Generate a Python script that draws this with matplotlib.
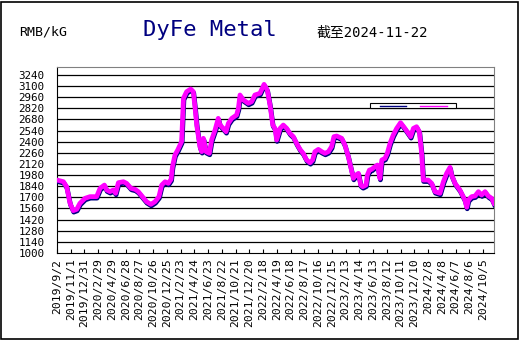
import numpy as np
import matplotlib
matplotlib.use('Agg')
import matplotlib.pyplot as plt
import matplotlib.transforms as mtransforms
from matplotlib.patches import Rectangle

# x = days since 2019/9/2, y = price in RMB/kG
day_offset = [0, 28, 42, 57, 71, 86, 100, 122, 144, 173, 188, 207, 217, 231, 246, 256, 268, 290, 304, 323,
              341, 355, 373, 391, 410, 428, 445, 457, 472, 486, 498, 504, 515, 527, 544, 552, 566, 584, 595, 603,
              610, 624, 632, 639, 651, 665, 675, 690, 704, 712, 726, 738, 748, 763, 784, 792, 799, 814, 835, 850,
              864, 886, 904, 918, 930, 942, 952, 959, 974,
              988, 1003, 1017, 1032, 1046, 1061, 1075, 1090, 1105, 1116, 1126, 1141, 1156, 1170, 1185, 1199, 1209,
              1221, 1243, 1257, 1272, 1282, 1294, 1305, 1316, 1326, 1335, 1349, 1355, 1364, 1374, 1388, 1399, 1410,
              1418, 1432, 1442, 1454, 1468, 1483, 1500, 1519, 1534, 1544, 1556, 1570, 1582, 1592, 1599, 1621, 1636,
              1650, 1672, 1687, 1701, 1716, 1723, 1738, 1759, 1781, 1789, 1796, 1810, 1825, 1840, 1854, 1869, 1883,
              1898, 1908]
price = [1918, 1897, 1834, 1625, 1533, 1549, 1625, 1688, 1709, 1709, 1814, 1855, 1793, 1772, 1793, 1751, 1885, 1897, 1876, 1814,
         1801, 1772, 1709, 1646, 1612, 1646, 1709, 1855, 1897, 1876, 1927, 2086, 2233, 2296, 2401, 2946, 3030, 3063, 3030, 2820,
         2610, 2338, 2275, 2443, 2275, 2254, 2422, 2547, 2694, 2610, 2568, 2526, 2631, 2694, 2736, 2820, 2988, 2925, 2883, 2904,
         2988, 3009, 3122, 3051, 2862, 2610, 2568, 2422, 2568,
         2610, 2568, 2505, 2464, 2380, 2304, 2254, 2170, 2136, 2170, 2275, 2304, 2275, 2254, 2275, 2338, 2464,
         2472, 2443, 2359, 2212, 2086, 1939, 1981, 2002, 1855, 1834, 1855, 1981, 2044, 2053, 2086, 2107, 1939,
         2170, 2191, 2254, 2380, 2484, 2568, 2640, 2568, 2505, 2464, 2568, 2589, 2526, 2254, 1918, 1918, 1876,
         1772, 1751, 1897, 2002, 2078, 1981, 1876, 1793, 1667, 1575, 1667, 1709, 1717, 1772, 1730, 1772, 1717,
         1688, 1625]

tick_labels = ['2019/9/2', '2019/11/1', '2019/12/31', '2020/2/29', '2020/4/29', '2020/6/28', '2020/8/27',
               '2020/10/26', '2020/12/25', '2021/2/23', '2021/4/24', '2021/6/23', '2021/8/22', '2021/10/21',
               '2021/12/20', '2022/2/18', '2022/4/19', '2022/6/18', '2022/8/17', '2022/10/16', '2022/12/15',
               '2023/2/13', '2023/4/14', '2023/6/13', '2023/8/12', '2023/10/11', '2023/12/10', '2024/2/8',
               '2024/4/8', '2024/6/7', '2024/8/6', '2024/10/5']
y_ticks = list(range(1000, 3241, 140))

W, H = 520, 341
fig = plt.figure(figsize=(W / 100, H / 100), dpi=100)
ax = fig.add_axes([57 / W, 1 - 253 / H, 437 / W, 186 / H])

# outer frame
fig.patches.append(Rectangle((1 / W, 2 / H), 517 / W, 337 / H, transform=fig.transFigure,
                             fill=False, edgecolor='black', linewidth=1.2))

# navy shadow, then magenta line on top
shadow = mtransforms.offset_copy(ax.transData, fig=fig, x=0.5, y=-1.5, units='dots')
ax.plot(day_offset, price, color='#000080', lw=3.4, transform=shadow, solid_joinstyle='round', zorder=3)
ax.plot(day_offset, price, color='#ff00ff', lw=3.4, solid_joinstyle='round', zorder=4)

ax.set_xlim(0, 1908)
ax.set_ylim(1000, 3340)
for y in y_ticks[1:]:
    ax.axhline(y, color='black', lw=0.9, zorder=1)

ax.set_yticks(y_ticks)
ax.set_yticklabels([str(v) for v in y_ticks], family='DejaVu Sans Mono', fontsize=7.8)
ax.tick_params(axis='y', length=0, pad=9)

ax.set_xticks([60 * i for i in range(len(tick_labels))])
ax.set_xticklabels(tick_labels, rotation=90, family='DejaVu Sans Mono', fontsize=8.2, va='top')
ax.tick_params(axis='x', direction='in', length=3, width=0.8, pad=4)

ax.spines['top'].set_color('#808080')
ax.spines['right'].set_color('#808080')
for s in ['left', 'bottom']:
    ax.spines[s].set_color('black')

# small squashed legend box
ax.add_patch(Rectangle((313 / 437, (253 - 108) / 186), 86 / 437, 5 / 186, transform=ax.transAxes,
                       facecolor='white', edgecolor='black', lw=0.8, zorder=5))
ax.plot([323 / 437, 349 / 437], [(253 - 105.5) / 186] * 2, color='#000080', lw=1, transform=ax.transAxes, zorder=6)
ax.plot([363 / 437, 390 / 437], [(253 - 105.5) / 186] * 2, color='#ff00ff', lw=1, transform=ax.transAxes, zorder=6)

fig.text(19 / W, 1 - 32 / H, 'RMB/kG', family='DejaVu Sans Mono', fontsize=9.5, va='center', ha='left')
fig.text(143 / W, 1 - 30 / H, 'DyFe Metal', family='DejaVu Sans Mono', fontsize=16, color='#000080',
         va='center', ha='left')
fig.text(316 / W, 1 - 33 / H, '截至2024-11-22', family=['DejaVu Sans Mono', 'Noto Sans CJK SC'],
         fontsize=10, va='center', ha='left')

fig.savefig('out.png', dpi=100)
